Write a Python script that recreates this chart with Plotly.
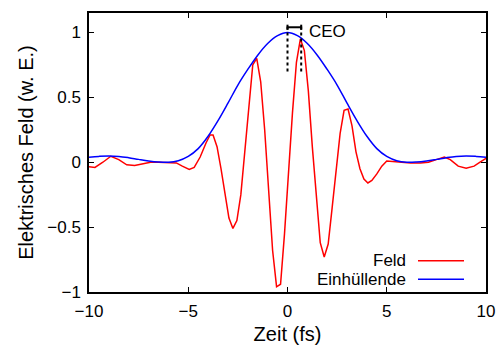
import plotly.graph_objects as go

# Field (Feld) samples
feld_t = [-10.0, -9.7, -9.3, -8.9, -8.5, -8.1, -7.7, -7.3, -6.9, -6.5, -6.0, -5.6, -5.3,
          -4.95, -4.7, -4.4, -4.1, -3.9, -3.75, -3.55, -3.35, -3.15, -2.95, -2.75, -2.55,
          -2.35, -2.15, -1.95, -1.75, -1.55, -1.35, -1.15, -0.95, -0.75, -0.55, -0.35,
          -0.15, 0.05, 0.25, 0.45, 0.65, 0.85, 1.05, 1.25, 1.45, 1.65, 1.85, 2.05, 2.25,
          2.45, 2.65, 2.85, 3.05, 3.25, 3.45, 3.65, 3.85, 4.05, 4.25, 4.5, 4.75, 5.0, 5.3,
          5.7, 6.2, 6.7, 7.1, 7.5, 7.9, 8.2, 8.6, 9.0, 9.4, 9.7, 10.0]
feld_e = [-0.035, -0.04, 0.0, 0.046, 0.02, -0.02, -0.025, -0.01, 0.0, 0.0, 0.0, -0.005, -0.03,
          -0.055, -0.04, 0.04, 0.15, 0.21, 0.21, 0.12, -0.05, -0.25, -0.43, -0.51, -0.45,
          -0.25, 0.1, 0.45, 0.75, 0.80, 0.62, 0.25, -0.2, -0.68, -0.96, -0.94,
          -0.55, -0.05, 0.38, 0.77, 0.95, 0.86, 0.55, 0.12, -0.28, -0.62, -0.73, -0.63, -0.35,
          -0.05, 0.22, 0.40, 0.41, 0.28, 0.08, -0.05, -0.13, -0.16, -0.14, -0.09, -0.03, 0.01, 0.005,
          0.0, -0.005, -0.005, 0.0, 0.02, 0.04, 0.02, -0.03, -0.046, -0.03, 0.0, 0.03]

# Envelope (Einhüllende) samples
env_t = [-10, -9.5, -9, -8.5, -8, -7.5, -7, -6.5, -6, -5.5, -5, -4.5, -4, -3.5, -3, -2.5,
         -2, -1.5, -1, -0.5, 0, 0.5, 1, 1.5, 2, 2.5, 3, 3.5, 4, 4.5, 5, 5.5, 6, 6.5, 7,
         7.5, 8, 8.5, 9, 9.5, 10]
env_e = [0.039, 0.045, 0.048, 0.045, 0.035, 0.022, 0.01, 0.002, 0.0, 0.012, 0.045, 0.105,
         0.2, 0.32, 0.455, 0.595, 0.715, 0.825, 0.915, 0.975, 1.0, 0.975, 0.915, 0.825,
         0.715, 0.595, 0.455, 0.32, 0.2, 0.105, 0.045, 0.012, 0.0, 0.002, 0.01, 0.022,
         0.035, 0.045, 0.048, 0.045, 0.039]

x_ticks = [-10, -5, 0, 5, 10]
y_ticks = [-1, -0.5, 0, 0.5, 1]
ceo_start, ceo_end = 0.0, 0.69

FONT = "Liberation Sans, Arial, sans-serif"
FS = 17

fig = go.Figure()
fig.add_trace(go.Scatter(x=feld_t, y=feld_e, mode="lines", name="Feld",
                         line=dict(color="#ff0000", width=1.5)))
fig.add_trace(go.Scatter(x=env_t, y=env_e, mode="lines", name="Einhüllende",
                         line=dict(color="#0000ff", width=1.5, shape="spline")))

# CEO markers
for xv in (ceo_start, ceo_end):
    fig.add_shape(type="line", x0=xv, x1=xv, y0=0.70, y1=1.065, xref="x", yref="y",
                  line=dict(color="black", width=2, dash="dot"))
    fig.add_shape(type="line", x0=xv, x1=xv, y0=1.02, y1=1.06, xref="x", yref="y",
                  line=dict(color="black", width=2))
fig.add_shape(type="line", x0=ceo_start, x1=ceo_end, y0=1.04, y1=1.04, xref="x", yref="y",
              line=dict(color="black", width=2))
fig.add_annotation(x=1.0, y=1.01, xref="x", yref="y", text="CEO", showarrow=False,
                   xanchor="left", yanchor="middle", font=dict(size=FS, color="black", family=FONT))

# Manual legend (text left of line sample)
leg_items = [("Feld", "#ff0000", 260.7), ("Einhüllende", "#0000ff", 279.3)]
W, H = 497, 345
L, R, T, B = 89, 11, 13, 53
pw, ph = W - L - R, H - T - B
for label, col, py in leg_items:
    yp = 1 - (py - T) / ph
    x_text = (408 - L) / pw
    x0 = (418 - L) / pw
    x1 = (464 - L) / pw
    fig.add_annotation(x=x_text, y=yp, xref="paper", yref="paper", text=label,
                       showarrow=False, xanchor="right", yanchor="middle",
                       font=dict(size=FS, color="black", family=FONT))
    fig.add_shape(type="line", x0=x0, x1=x1, y0=yp, y1=yp, xref="paper", yref="paper",
                  line=dict(color=col, width=1.5))

fig.update_layout(
    width=W, height=H,
    margin=dict(l=L, r=R, t=T, b=B, autoexpand=False),
    plot_bgcolor="white", paper_bgcolor="white",
    showlegend=False,
    font=dict(family=FONT, size=FS, color="black"),
)
fig.update_xaxes(range=[-10, 10], tickvals=x_ticks, ticks="inside", ticklen=5,
                 tickcolor="black", showline=True, linecolor="black", linewidth=1.5,
                 mirror="allticks", showgrid=False, zeroline=False, automargin=False,
                 ticklabelstandoff=3,
                 title=dict(text="Zeit (fs)", standoff=9), tickfont=dict(size=FS))
fig.update_yaxes(range=[-1, 1.15], tickvals=y_ticks, ticks="inside", ticklen=5,
                 tickcolor="black", showline=True, linecolor="black", linewidth=1.5,
                 mirror="allticks", showgrid=False, zeroline=False, automargin=False,
                 ticklabelstandoff=3,
                 title=dict(text="Elektrisches Feld (w. E.)", standoff=8), tickfont=dict(size=FS))

fig.write_html("out.html")
